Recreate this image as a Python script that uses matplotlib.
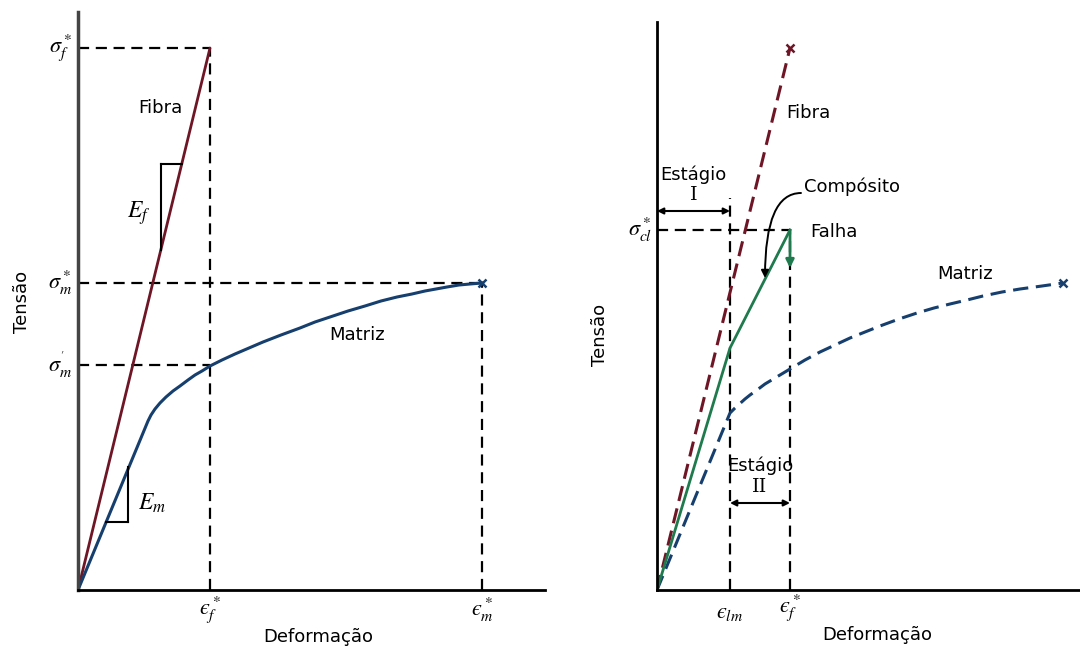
import matplotlib
matplotlib.use("Agg")
import matplotlib.pyplot as plt

plt.rcParams['font.family'] = ['DejaVu Sans']
plt.rcParams['mathtext.fontset'] = 'stix'

# ---------------- data (arbitrary units) ----------------
# Left panel
L_eps_f = 1.32
L_sig_f = 5.42
L_eps_m = 4.04
L_sig_m = 3.07
L_sig_m_prime = 2.25
L_fiber_x = [0.0, 1.32]
L_fiber_y = [0.0, 5.42]
L_matrix_x = [0.0, 0.70, 0.73, 0.77, 0.82, 0.88, 0.95, 1.02, 1.10, 1.17, 1.24, 1.32, 1.44, 1.57, 1.71, 1.85,
              2.03, 2.22, 2.37, 2.52, 2.70, 2.87, 3.03, 3.19, 3.34, 3.47, 3.58, 3.69, 3.81, 3.92, 4.04]
L_matrix_y = [0.0, 1.69, 1.75, 1.81, 1.87, 1.93, 1.99, 2.04, 2.10, 2.15, 2.19, 2.24, 2.30, 2.36, 2.42, 2.48,
              2.55, 2.62, 2.68, 2.73, 2.79, 2.84, 2.89, 2.93, 2.96, 2.99, 3.01, 3.03, 3.05, 3.06, 3.07]

# Right panel
R_eps_lm = 0.73
R_eps_f = 1.33
R_sig_cl = 3.60
R_fiber_x = [0.0, 1.33]
R_fiber_y = [0.0, 5.42]
R_matrix_x = [0.0, 0.73, 0.78, 0.83, 0.88, 0.93, 1.00, 1.08, 1.18, 1.33, 1.48, 1.63, 1.78, 1.93, 2.08, 2.23,
              2.42, 2.60, 2.77, 2.93, 3.10, 3.26, 3.45, 3.63, 3.85, 4.06]
R_matrix_y = [0.0, 1.77, 1.82, 1.865, 1.91, 1.95, 2.00, 2.06, 2.12, 2.21, 2.30, 2.38, 2.45, 2.52, 2.58, 2.64,
              2.71, 2.77, 2.82, 2.86, 2.90, 2.94, 2.98, 3.01, 3.04, 3.07]
R_comp_x = [0.0, 0.73, 1.33]
R_comp_y = [0.0, 2.42, 3.60]
R_fail_y = 3.22

FIBER = '#6e1526'
MATRIX = '#163f6e'
COMP = '#1f7a4d'
DASH = (0, (5, 3))
FS = 13
EPS = '\u03f5'

fig = plt.figure(figsize=(10.8, 6.47), dpi=100)
W, H = 1080, 647

def axes_px(x0, x1, ytop, ybot):
    return fig.add_axes([x0 / W, (H - ybot) / H, (x1 - x0) / W, (ybot - ytop) / H])

# ---------------- left panel ----------------
ax = axes_px(78, 545, 12, 590)
ax.set_xlim(0, 4.67)
ax.set_ylim(0, 5.78)
for s in ['top', 'right']:
    ax.spines[s].set_visible(False)
ax.spines['left'].set_linewidth(2.5)
ax.spines['left'].set_color('#444444')
ax.spines['bottom'].set_linewidth(2)
ax.set_xticks([]); ax.set_yticks([])
ax.patch.set_alpha(0)

kw = dict(color='black', lw=1.6, ls=DASH)
ax.plot([0, L_eps_f], [L_sig_f, L_sig_f], **kw)
ax.plot([L_eps_f, L_eps_f], [0, L_sig_f], **kw)
ax.plot([0, L_eps_m], [L_sig_m, L_sig_m], **kw)
ax.plot([L_eps_m, L_eps_m], [0, L_sig_m], **kw)
ax.plot([0, L_eps_f], [L_sig_m_prime, L_sig_m_prime], **kw)

ax.plot(L_fiber_x, L_fiber_y, color=FIBER, lw=2, solid_capstyle='round')
ax.plot(L_matrix_x, L_matrix_y, color=MATRIX, lw=2.2, solid_joinstyle='round')
ax.plot([L_eps_m], [L_sig_m], marker='x', color=MATRIX, ms=6, mew=1.8)

# slope triangles
ax.plot([0.83, 1.04], [4.26, 4.26], color='black', lw=1.5)
ax.plot([0.83, 0.83], [4.26, 3.40], color='black', lw=1.5)
ax.plot([0.28, 0.50], [0.68, 0.68], color='black', lw=1.5)
ax.plot([0.50, 0.50], [0.68, 1.23], color='black', lw=1.5)

ax.text(0.82, 4.82, 'Fibra', fontsize=FS, ha='center', va='center')
ax.text(0.61, 3.77, '$E_f$', fontsize=17, ha='center', va='center')
ax.text(0.74, 0.87, '$E_m$', fontsize=17, ha='center', va='center')
ax.text(2.79, 2.55, 'Matriz', fontsize=FS, ha='center', va='center')

ax.text(-0.06, L_sig_f, r'$\sigma_f^*$', fontsize=16, ha='right', va='center', clip_on=False)
ax.text(-0.06, L_sig_m, r'$\sigma_m^*$', fontsize=16, ha='right', va='center', clip_on=False)
ax.text(-0.06, L_sig_m_prime, r"$\sigma_m^{'}$", fontsize=16, ha='right', va='center', clip_on=False)
ax.text(L_eps_f, -0.2, '$' + EPS + r'_f^*$', fontsize=16, ha='center', va='center', clip_on=False)
ax.text(L_eps_m, -0.2, '$' + EPS + r'_m^*$', fontsize=16, ha='center', va='center', clip_on=False)
ax.text(2.40, -0.47, 'Deformação', fontsize=FS, ha='center', va='center', clip_on=False)
ax.text(-0.56, 2.88, 'Tensão', fontsize=FS, ha='center', va='center', rotation=90, clip_on=False)

# ---------------- right panel ----------------
bx = axes_px(657, 1080, 22, 590)
bx.set_xlim(0, 4.23)
bx.set_ylim(0, 5.68)
for s in ['top', 'right']:
    bx.spines[s].set_visible(False)
bx.spines['left'].set_linewidth(2)
bx.spines['bottom'].set_linewidth(2)
bx.set_xticks([]); bx.set_yticks([])
bx.patch.set_alpha(0)

bx.plot([R_eps_lm, R_eps_lm], [0, 3.92], **kw)
bx.plot([R_eps_f, R_eps_f], [0, R_sig_cl], **kw)
bx.plot([0, R_eps_f], [R_sig_cl, R_sig_cl], **kw)

bx.plot(R_fiber_x, R_fiber_y, color=FIBER, lw=2.2, ls=(0, (5, 2.5)))
bx.plot([R_fiber_x[-1]], [R_fiber_y[-1]], marker='x', color=FIBER, ms=6, mew=1.8)
bx.plot(R_matrix_x, R_matrix_y, color=MATRIX, lw=2.2, ls=(0, (5, 2.5)))
bx.plot([R_matrix_x[-1]], [R_matrix_y[-1]], marker='x', color=MATRIX, ms=6, mew=1.8)
bx.plot(R_comp_x, R_comp_y, color=COMP, lw=2)
bx.annotate('', xy=(R_eps_f, R_fail_y), xytext=(R_eps_f, R_sig_cl),
            arrowprops=dict(arrowstyle='-|>', color=COMP, lw=2, mutation_scale=12,
                            shrinkA=0, shrinkB=0))

# stage arrows
bx.annotate('', xy=(0.0, 3.79), xytext=(R_eps_lm, 3.79),
            arrowprops=dict(arrowstyle='<|-|>', color='black', lw=1.5, mutation_scale=9,
                            shrinkA=0, shrinkB=0))
bx.annotate('', xy=(R_eps_lm, 0.87), xytext=(R_eps_f, 0.87),
            arrowprops=dict(arrowstyle='<|-|>', color='black', lw=1.5, mutation_scale=9,
                            shrinkA=0, shrinkB=0))
bx.text(0.36, 4.15, 'Estágio', fontsize=FS, ha='center', va='center')
bx.text(0.37, 3.95, 'I', fontsize=14, ha='center', va='center', family='DejaVu Serif')
bx.text(1.03, 1.24, 'Estágio', fontsize=FS, ha='center', va='center')
bx.text(1.03, 1.03, 'II', fontsize=14, ha='center', va='center', family='DejaVu Serif')

# composite label with curved arrow
bx.annotate('', xy=(1.08, 3.12), xytext=(1.44, 3.97),
            arrowprops=dict(arrowstyle='-|>', color='black', lw=1.4, mutation_scale=11,
                            shrinkA=0, shrinkB=0,
                            connectionstyle='angle3,angleA=180,angleB=90'))
bx.text(1.47, 4.03, 'Compósito', fontsize=FS, ha='left', va='center')
bx.text(1.53, 3.58, 'Falha', fontsize=FS, ha='left', va='center')
bx.text(1.51, 4.77, 'Fibra', fontsize=FS, ha='center', va='center')
bx.text(3.08, 3.16, 'Matriz', fontsize=FS, ha='center', va='center')

bx.text(-0.05, R_sig_cl, r'$\sigma_{cl}^*$', fontsize=16, ha='right', va='center', clip_on=False)
bx.text(R_eps_lm, -0.23, '$' + EPS + r'_{lm}$', fontsize=16, ha='center', va='center', clip_on=False)
bx.text(R_eps_f, -0.18, '$' + EPS + r'_f^*$', fontsize=16, ha='center', va='center', clip_on=False)
bx.text(2.20, -0.45, 'Deformação', fontsize=FS, ha='center', va='center', clip_on=False)
bx.text(-0.57, 2.55, 'Tensão', fontsize=FS, ha='center', va='center', rotation=90, clip_on=False)

fig.savefig('out.png', dpi=100)
